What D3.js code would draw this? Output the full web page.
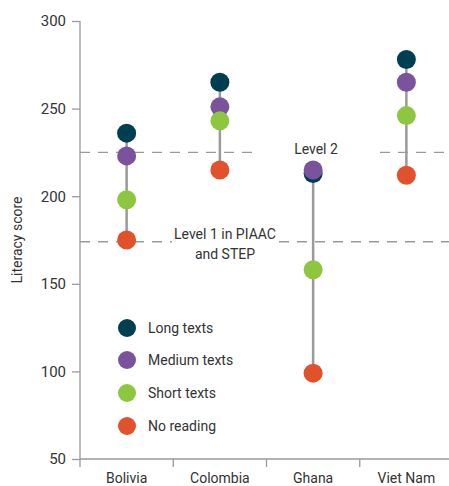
<!DOCTYPE html>
<html><head><meta charset="utf-8">
<script src="https://cdn.jsdelivr.net/npm/d3@7"></script>
<style>body{margin:0;background:#fff}svg{display:block}text{font-family:Roboto,"Open Sans",sans-serif;fill:#333}</style>
</head><body>
<svg id="c" width="449" height="486"></svg>
<script>
const countries = ["Bolivia", "Colombia", "Ghana", "Viet Nam"];
const seriesNames = ["Long texts", "Medium texts", "Short texts", "No reading"];
const longTexts = [236, 265, 213, 278];
const mediumTexts = [223, 251, 215, 265];
const shortTexts = [198, 243, 158, 246];
const noReading = [175, 215, 99, 212];
const seriesColors = ["#003f52", "#7b529c", "#8dc63f", "#e1512b"];
const yTicks = [50, 100, 150, 200, 250, 300];
const refLines = [{label: ["Level 2"], value: 225}, {label: ["Level 1 in PIAAC", "and STEP"], value: 174}];

const seriesValues = [longTexts, mediumTexts, shortTexts, noReading];
const svg = d3.select("#c");
const x = d3.scaleBand().domain(countries).range([80, 453]);
const y = d3.scaleLinear().domain([50, 300]).range([459, 21]);
const grey = "#9a9a9a";

// y axis
const ya = svg.append("g").attr("transform", "translate(80,0)")
  .call(d3.axisLeft(y).tickValues(yTicks).tickSize(8).tickPadding(6));
ya.select(".domain").remove();
ya.selectAll("line").attr("stroke", grey).attr("stroke-width", 1.3);
ya.selectAll("text").style("font-size", "15px").attr("fill", "#333");
svg.append("line").attr("x1", 80).attr("x2", 80).attr("y1", y(300)).attr("y2", 467)
  .attr("stroke", grey).attr("stroke-width", 1.3);

// x axis
svg.append("line").attr("x1", 80).attr("x2", 453).attr("y1", 459).attr("y2", 459)
  .attr("stroke", grey).attr("stroke-width", 1.3);
countries.forEach((c, i) => {
  if (i > 0) svg.append("line").attr("x1", x(c)).attr("x2", x(c)).attr("y1", 459).attr("y2", 467)
    .attr("stroke", grey).attr("stroke-width", 1.3);
  svg.append("text").attr("x", x(c) + x.bandwidth() / 2).attr("y", 483)
    .attr("text-anchor", "middle").style("font-size", "14px").text(c);
});

// y label
svg.append("text").attr("transform", "translate(22,240) rotate(-90)")
  .attr("text-anchor", "middle").style("font-size", "14px").text("Literacy score");

// reference lines with gaps
const dash = "10,8";
function refSeg(v, x1, x2) {
  svg.append("line").attr("x1", x1).attr("x2", x2).attr("y1", y(v)).attr("y2", y(v))
    .attr("stroke", grey).attr("stroke-width", 1.3).attr("stroke-dasharray", dash);
}
refSeg(refLines[0].value, 80, 258);
refSeg(refLines[0].value, 380, 449);
refSeg(refLines[1].value, 80, 172);
refSeg(refLines[1].value, 279, 449);
svg.append("text").attr("x", 316).attr("y", y(refLines[0].value) + 2).attr("text-anchor", "middle")
  .style("font-size", "14px").text(refLines[0].label[0]);
svg.append("text").attr("x", 225).attr("y", y(refLines[1].value) - 3).attr("text-anchor", "middle")
  .style("font-size", "14px").text(refLines[1].label[0]);
svg.append("text").attr("x", 225).attr("y", y(refLines[1].value) + 17).attr("text-anchor", "middle")
  .style("font-size", "14px").text(refLines[1].label[1]);

// connectors
countries.forEach((c, i) => {
  const vals = seriesValues.map(s => s[i]);
  svg.append("line").attr("x1", x(c) + x.bandwidth() / 2).attr("x2", x(c) + x.bandwidth() / 2)
    .attr("y1", y(d3.max(vals))).attr("y2", y(d3.min(vals)))
    .attr("stroke", grey).attr("stroke-width", 2.5);
});

// points
seriesValues.forEach((s, k) => {
  svg.append("g").selectAll("circle").data(s).join("circle")
    .attr("cx", (d, i) => x(countries[i]) + x.bandwidth() / 2)
    .attr("cy", d => y(d)).attr("r", 9.5).attr("fill", seriesColors[k]);
});

// legend
const legendY = [328, 360, 393, 426];
seriesNames.forEach((n, k) => {
  svg.append("circle").attr("cx", 127).attr("cy", legendY[k]).attr("r", 9).attr("fill", seriesColors[k]);
  svg.append("text").attr("x", 148).attr("y", legendY[k] + 5).style("font-size", "14px").text(n);
});
</script>
</body></html>
